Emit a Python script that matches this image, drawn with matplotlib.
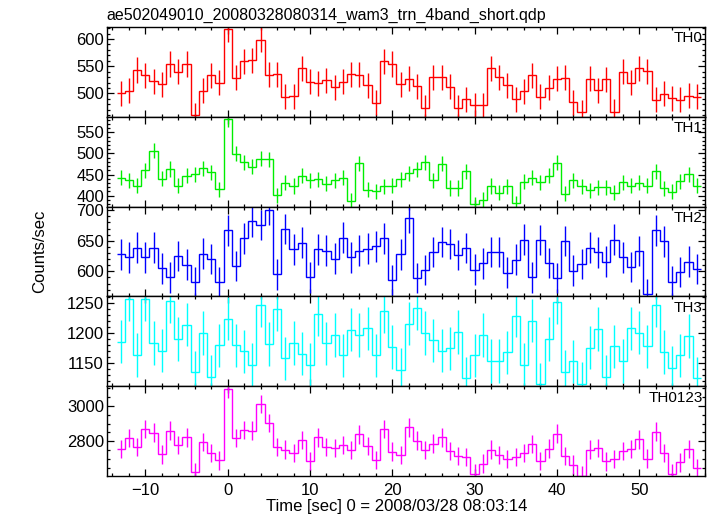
import matplotlib
matplotlib.use("Agg")
import matplotlib.pyplot as plt
import numpy as np
from matplotlib.ticker import MultipleLocator

plt.rcParams['font.family'] = ['Liberation Sans', 'DejaVu Sans']

time = list(range(-13, 58))

th0 = [500, 505, 543, 533, 522, 517, 554, 540, 554, 460, 505, 533, 520, 618, 529, 559, 561, 599, 534, 535,
       494, 495, 546, 521, 519, 524, 511, 521, 535, 534, 515, 483, 559,
       554, 517, 527, 513, 474, 530, 530, 512, 474, 489, 478, 478, 546, 530, 515, 489, 504, 533, 494, 510,
       527, 529, 484, 465, 527, 506, 526, 466, 540, 520, 546, 541, 488, 499, 491, 488, 496, 494]
th1 = [443, 436, 424, 460, 507, 440, 463, 424, 447, 451, 465, 455, 415, 581, 499, 479, 469, 488, 486, 401,
       431, 423, 447, 436, 439, 428, 436, 443, 388, 477, 414, 410, 422,
       424, 439, 453, 462, 479, 436, 476, 418, 418, 458, 379, 390, 423, 407, 422, 382, 433, 443, 432, 447,
       478, 405, 436, 422, 413, 420, 420, 407, 432, 424, 431, 424, 458, 417, 409, 434, 451, 424]
th2 = [628, 623, 639, 623, 639, 605, 590, 625, 611, 582, 629, 620, 582, 667, 609, 654, 682, 676, 701, 595,
       669, 636, 647, 590, 636, 634, 621, 655, 623, 634, 637, 641, 654,
       586, 628, 687, 589, 602, 632, 648, 645, 627, 638, 603, 613, 632, 632, 598, 619, 652, 590, 651, 614,
       589, 650, 601, 612, 639, 631, 616, 652, 623, 607, 633, 563, 667, 649, 583, 599, 616, 604]
th3 = [1186, 1257, 1164, 1257, 1184, 1171, 1253, 1190, 1214, 1135, 1200, 1127, 1180, 1224, 1180, 1170, 1148,
       1246, 1182, 1240, 1158, 1184, 1166, 1147, 1232, 1183, 1197, 1163, 1206, 1197, 1208, 1163, 1237,
       1177, 1139, 1216, 1242, 1200, 1188, 1171, 1175, 1202, 1125, 1163, 1197, 1154, 1154, 1168, 1229, 1148,
       1221, 1115, 1190, 1252, 1136, 1153, 1116, 1176, 1207, 1127, 1178, 1154, 1208, 1201, 1178, 1246, 1169,
       1143, 1163, 1195, 1125]
th0123 = [2757, 2819, 2768, 2870, 2849, 2728, 2860, 2779, 2823, 2626, 2796, 2734, 2694, 3096, 2819, 2864, 2860,
          3009, 2904, 2768, 2753, 2736, 2808, 2690, 2823, 2768, 2764, 2779, 2751, 2840, 2774, 2696, 2870,
          2742, 2723, 2879, 2804, 2751, 2787, 2823, 2747, 2717, 2713, 2619, 2676, 2753, 2723, 2702, 2713, 2736,
          2785, 2690, 2759, 2843, 2717, 2670, 2608, 2753, 2762, 2688, 2702, 2745, 2757, 2811, 2704, 2855, 2734,
          2619, 2683, 2757, 2651]

names = ["TH0", "TH1", "TH2", "TH3", "TH0123"]
series = [th0, th1, th2, th3, th0123]
errors = [23, 18, 25, 36, 52]
colors = ["#ff0000", "#00ee00", "#0000ff", "#00ffff", "#ff00ff"]
ylims = [(457, 622), (374, 587), (559, 706), (1112, 1261), (2606, 3109)]
major = [50, 50, 50, 50, 200]
minor = [10, 10, 10, 10, 50]

fig = plt.figure(figsize=(7.17, 5.16), dpi=100)
left, right, top, bottom = 106.7 / 717, 705 / 717, 1 - 27 / 516, 1 - 476 / 516
h = (top - bottom) / 5
axes = []
t = np.array(time, dtype=float)
edges = np.concatenate([t - 0.5, [t[-1] + 0.5]])
for i in range(5):
    ax = fig.add_axes([left, top - (i + 1) * h, right - left, h])
    axes.append(ax)
    y = np.array(series[i], dtype=float)
    ax.stairs(y, edges, baseline=None, color=colors[i], lw=1.0)
    ax.errorbar(t, y, yerr=errors[i], fmt='none', ecolor=colors[i], elinewidth=1.0, capsize=0)
    ax.set_xlim(-14.7, 58.0)
    ax.set_ylim(*ylims[i])
    ax.xaxis.set_major_locator(MultipleLocator(10))
    ax.xaxis.set_minor_locator(MultipleLocator(2))
    ax.yaxis.set_major_locator(MultipleLocator(major[i]))
    ax.yaxis.set_minor_locator(MultipleLocator(minor[i]))
    ax.tick_params(which='both', direction='in', top=True, right=True, labelsize=12)
    ax.tick_params(which='major', length=5, width=0.9)
    ax.tick_params(which='minor', length=2.5, width=0.9)
    ax.tick_params(axis='y', pad=2)
    ax.tick_params(axis='x', pad=5)
    for s in ax.spines.values():
        s.set_linewidth(1.0)
    if i < 4:
        ax.tick_params(labelbottom=False)
    ax.text(0.996, 0.95, names[i], transform=ax.transAxes, ha='right', va='top', fontsize=11)

fig.text(left, 1 - 15 / 516, "ae502049010_20080328080314_wam3_trn_4band_short.qdp",
         ha='left', va='center', fontsize=11.5)
fig.text(40 / 717, 1 - 251 / 516, "Counts/sec", rotation=90, ha='center', va='center', fontsize=12)
fig.text(397 / 717, 1 - 506 / 516, "Time [sec] 0 = 2008/03/28 08:03:14", ha='center', va='center', fontsize=12)

fig.savefig("out.png", dpi=100)
